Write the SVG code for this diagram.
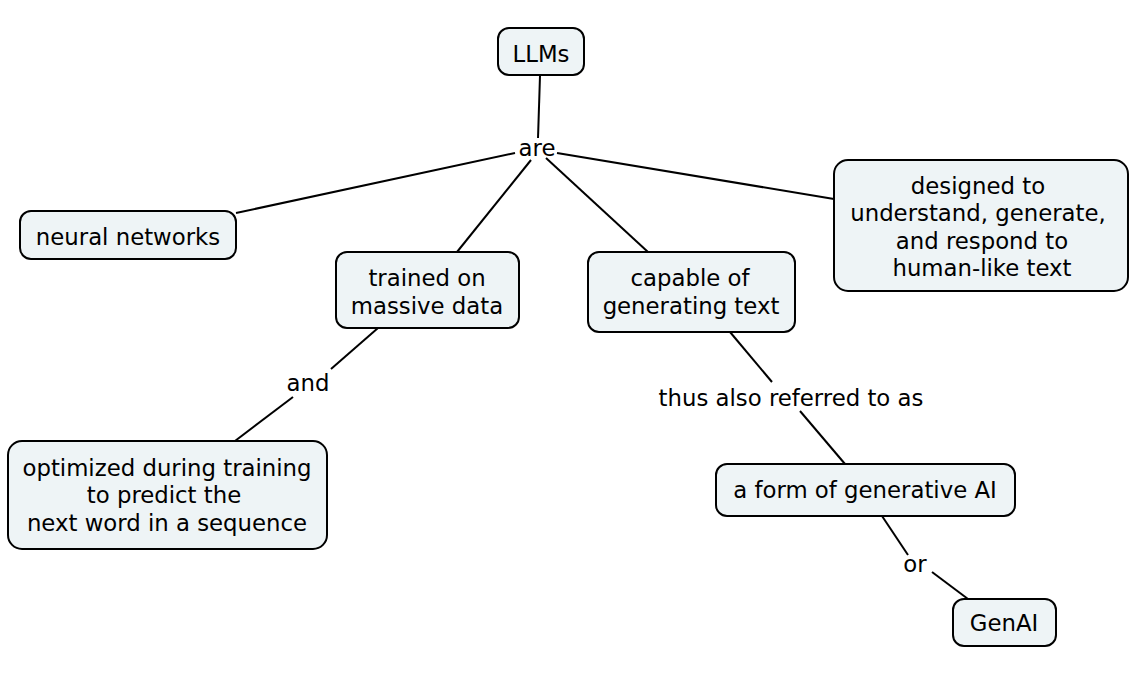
<svg xmlns="http://www.w3.org/2000/svg" width="1141" height="679" viewBox="0 0 1141 679">
<style>
.n rect{fill:#eef4f6;stroke:#000;stroke-width:2}
text{font-family:"DejaVu Sans",Verdana,sans-serif;font-size:22.8px;fill:#000;text-anchor:middle}
.c line{stroke:#000;stroke-width:2}
</style>
<rect width="1141" height="679" fill="#fff"/>
<g class="c" id="connectors">
<line x1="540" y1="76" x2="538" y2="138"/>
<line x1="515" y1="153" x2="236" y2="213"/>
<line x1="531" y1="160" x2="457" y2="252"/>
<line x1="546" y1="158" x2="648" y2="252"/>
<line x1="557" y1="153" x2="834" y2="199"/>
<line x1="378" y1="328" x2="331" y2="369"/>
<line x1="293" y1="397" x2="235" y2="441"/>
<line x1="730" y1="332" x2="772" y2="382"/>
<line x1="800" y1="411" x2="845" y2="464"/>
<line x1="882" y1="516" x2="908" y2="555"/>
<line x1="932" y1="572" x2="968" y2="599"/>
</g>
<g id="labels">
<text x="537" y="156">are</text>
<text x="308" y="391">and</text>
<text x="791" y="406">thus also referred to as</text>
<text x="915" y="572">or</text>
</g>
<g class="n" id="llms"><rect x="498" y="28" width="86" height="47" rx="11"/><text x="541" y="62">LLMs</text></g>
<g class="n" id="neural"><rect x="20" y="211" width="216" height="48" rx="11"/><text x="128" y="245">neural networks</text></g>
<g class="n" id="trained"><rect x="336" y="252" width="183" height="76" rx="11"/><text x="427" y="286">trained on</text><text x="427" y="314">massive data</text></g>
<g class="n" id="capable"><rect x="588" y="252" width="207" height="80" rx="11"/><text x="690" y="286">capable of</text><text x="691" y="314">generating text</text></g>
<g class="n" id="designed"><rect x="834" y="160" width="294" height="131" rx="14"/><text x="978" y="194">designed to</text><text x="978" y="221">understand, generate,</text><text x="982" y="249">and respond to</text><text x="982" y="276">human-like text</text></g>
<g class="n" id="optimized"><rect x="8" y="441" width="319" height="108" rx="14"/><text x="167" y="476">optimized during training</text><text x="164" y="503">to predict the</text><text x="167" y="531">next word in a sequence</text></g>
<g class="n" id="form"><rect x="716" y="464" width="299" height="52" rx="11"/><text x="865" y="498">a form of generative AI</text></g>
<g class="n" id="genai"><rect x="953" y="599" width="103" height="47" rx="11"/><text x="1004" y="631">GenAI</text></g>
</svg>
